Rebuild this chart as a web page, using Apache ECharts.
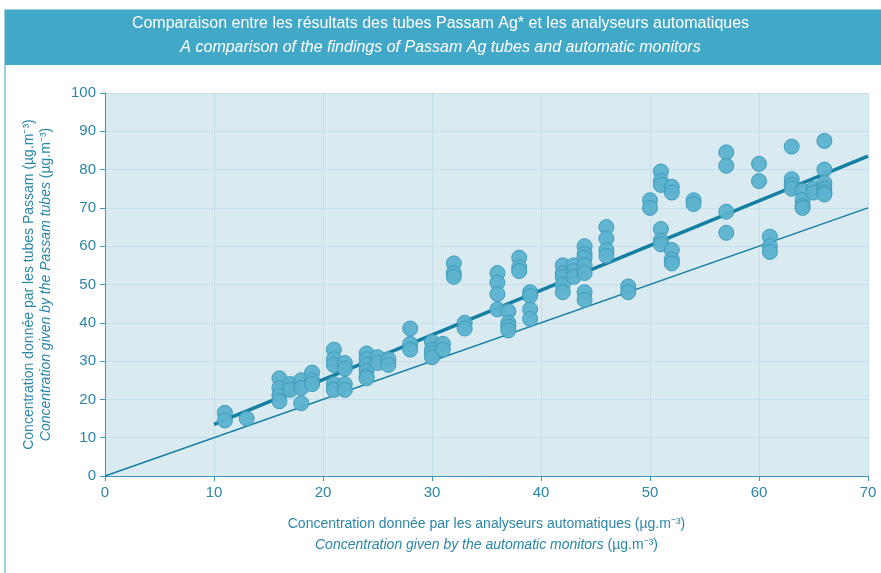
<!DOCTYPE html>
<html>
<head>
<meta charset="utf-8">
<script src="https://cdn.jsdelivr.net/npm/echarts@6/dist/echarts.min.js"></script>
<style>
html,body{margin:0;padding:0;background:#fff;}
#main{width:881px;height:573px;}
</style>
</head>
<body>
<div id="main"></div>
<script>
// valeurs analyseurs automatiques (x) / tubes Passam (y)
var ptX = [11,11, 13, 16,16,16,16, 17,17, 18,18,18, 19,19,19,
  21,21,21,21,21, 22,22,22,22, 24,24,24,24,24,24, 25,25, 26,26,
  28,28,28, 30,30,30,30, 31,31, 32,32,32, 33,33,
  36,36,36,36, 37,37,37,37, 38,38,38, 39,39,39,39,
  42,42,42,42,42, 43,43,43, 44,44,44,44,44,44,44, 46,46,46,46,
  48,48, 50,50, 51,51,51,51,51,51, 52,52,52,52,52, 54,54,
  57,57,57,57, 60,60, 61,61,61, 63,63,63,63, 64,64,64,64, 65,65,
  66,66,66,66,66,66];
var ptY = [16.5,14.5, 15, 25.5,23,21,19.5, 24,22.5, 25,23,19, 27,25,24,
  33,30.5,29,24,22.5, 29.5,28,24,22.5, 32,30.5,29,27.5,26,25.5, 31,29.5, 30.5,29,
  38.5,34.5,33, 35,33,32,31, 34.5,33, 55.5,53,52, 40,38.5,
  53,50.5,47.5,43.5, 43,40,39,38, 57,54.5,53.5, 48,47,43.5,41,
  55,53,52,50,48, 55,53.5,52, 60,58,57,55,53,48,46, 65,62,59,57.5,
  49.5,48, 72,70, 79.5,77,76,64.5,61.5,60.5, 75.5,74,59,56.5,55.5, 72,71,
  84.5,81,69,63.5, 81.5,77, 62.5,60,58.5, 86,77.5,76,75, 74.5,72,70.5,70, 75,74,
  87.5,80,76.5,75,74,73.5];

// droite de régression et droite y = x
var regX = [10, 70];
var regY = [13.5, 83.5];
var idX = [0, 70];
var idY = [0, 70];

var xTicks = [0,10,20,30,40,50,60,70];
var yTicks = [0,10,20,30,40,50,60,70,80,90,100];

var txtBlue = '#2a86a8';
var axisBlue = '#3a97b8';
var font = "'Liberation Sans Narrow','Liberation Sans',Arial,sans-serif";

var points = ptX.map(function (x, i) { return [x, ptY[i]]; });
var reg = regX.map(function (x, i) { return [x, regY[i]]; });
var ident = idX.map(function (x, i) { return [x, idY[i]]; });

var chart = echarts.init(document.getElementById('main'));

chart.setOption({
    backgroundColor: '#fff',
    animation: false,
    graphic: [
        // cadre + bandeau du titre
        {type:'rect', shape:{x:5, y:10, width:880, height:570}, style:{fill:'none', stroke:'#7cc0d6', lineWidth:1.5}, z:0},
        {type:'rect', shape:{x:5, y:10, width:876, height:55}, style:{fill:'#42a8c8'}, z:1},
        {type:'text', left:'center', top:16, style:{text:'Comparaison entre les résultats des tubes Passam Ag* et les analyseurs automatiques',
            fill:'#fff', font:'16px ' + font}, z:2},
        {type:'text', left:'center', top:40, style:{text:'A comparison of the findings of Passam Ag tubes and automatic monitors',
            fill:'#fff', font:'italic 16px ' + font}, z:2}
    ],
    grid: {left:105, right:13, top:93, bottom:97, show:true, backgroundColor:'#d9eaf1', borderWidth:0},
    xAxis: {
        type:'value', min:0, max:70, interval:10,
        axisLine:{lineStyle:{color:axisBlue, width:1}},
        axisTick:{show:true, length:5, lineStyle:{color:axisBlue}},
        splitLine:{show:true, lineStyle:{color:'#c4dfe9', width:1}},
        axisLabel:{color:txtBlue, fontSize:15, fontFamily:font, margin:9,
            formatter:function (v) { return xTicks.indexOf(v) >= 0 ? v : ''; }},
        name:'Concentration donnée par les analyseurs automatiques (µg.m⁻³)\n{i|Concentration given by the automatic monitors} (µg.m⁻³)',
        nameLocation:'middle', nameGap:38,
        nameTextStyle:{color:txtBlue, fontSize:14, fontFamily:font, lineHeight:21,
            rich:{i:{fontStyle:'italic', color:txtBlue, fontSize:14, fontFamily:font}}}
    },
    yAxis: {
        type:'value', min:0, max:100, interval:10,
        axisLine:{show:true, lineStyle:{color:axisBlue, width:1}},
        axisTick:{show:true, length:5, lineStyle:{color:axisBlue}},
        splitLine:{show:true, lineStyle:{color:'#c4dfe9', width:1}},
        axisLabel:{color:txtBlue, fontSize:15, fontFamily:font, margin:9,
            formatter:function (v) { return yTicks.indexOf(v) >= 0 ? v : ''; }},
        name:'Concentration donnée par les tubes Passam (µg.m⁻³)\n{i|Concentration given by the Passam tubes} (µg.m⁻³)',
        nameLocation:'middle', nameGap:50, nameRotate:90,
        nameTextStyle:{color:txtBlue, fontSize:14, fontFamily:font, lineHeight:17,
            rich:{i:{fontStyle:'italic', color:txtBlue, fontSize:14, fontFamily:font}}}
    },
    series: [
        {type:'line', data:ident, symbol:'none', lineStyle:{color:'#147fa2', width:1.5}, z:3},
        {type:'line', data:reg, symbol:'none', lineStyle:{color:'#147fa2', width:3.5}, z:3},
        {type:'scatter', data:points, symbolSize:15,
            itemStyle:{color:'#5cb2cf', borderColor:'#3b9aba', borderWidth:1, opacity:0.95}, z:4}
    ]
});
</script>
</body>
</html>
